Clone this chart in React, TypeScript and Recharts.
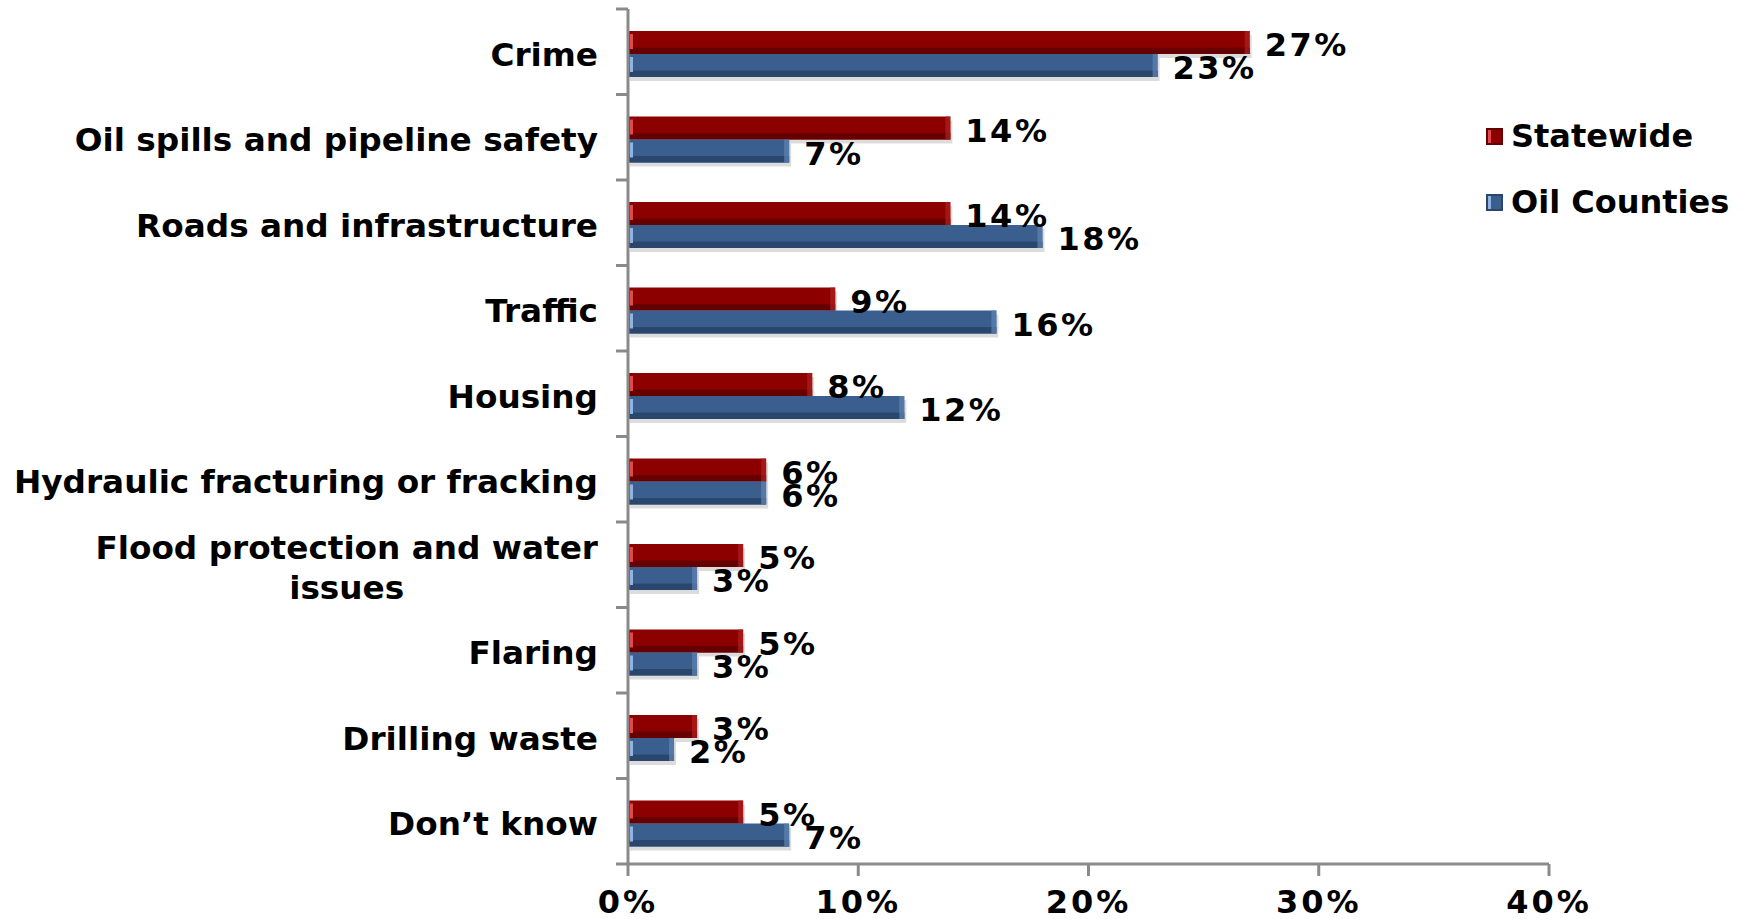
import { Bar, BarChart, LabelList, Legend, XAxis, YAxis } from "recharts";

const CATEGORIES = [
  "Crime",
  "Oil spills and pipeline safety",
  "Roads and infrastructure",
  "Traffic",
  "Housing",
  "Hydraulic fracturing or fracking",
  "Flood protection and water issues",
  "Flaring",
  "Drilling waste",
  "Don\u2019t know",
];
const STATEWIDE = [27, 14, 14, 9, 8, 6, 5, 5, 3, 5];
const OIL_COUNTIES = [23, 7, 18, 16, 12, 6, 3, 3, 2, 7];
const X_TICKS = [0, 10, 20, 30, 40];

const data = CATEGORIES.map((category, i) => ({
  category,
  statewide: STATEWIDE[i],
  oil: OIL_COUNTIES[i],
}));

const W = 1752;
const H = 919;
const MARGIN = { top: 9, right: 203, bottom: 0, left: 0 };
const Y_AXIS_W = 628;
const X_AXIS_H = 55;
const BAND = (H - MARGIN.top - MARGIN.bottom - X_AXIS_H) / CATEGORIES.length;
const AXIS_GRAY = "#8a8a8a";
const FONT = "'DejaVu Sans', Verdana, sans-serif";
const CAT_FONT_SIZE = 32.7;

const RED = { main: "#8c0000", dark: "#660000", light: "#e04a4a", edge: "#b02020" };
const BLUE = { main: "#3a5f8e", dark: "#2a466c", light: "#8fb4e2", edge: "#5f84b4" };

type Palette = typeof RED;

// bars sit a touch below the band centre in the original
const BAR_SHIFT = 2;

function GlossyBar(props: any & { palette: Palette }) {
  const { x, width, height, palette } = props;
  const y = props.y + BAR_SHIFT;
  if (!width || width <= 0) return null;
  return (
    <g>
      <rect x={x + 2} y={y + 4} width={width} height={height} fill="#9a9a9a" opacity={0.35} />
      <rect x={x} y={y} width={width} height={height} fill={palette.main} />
      <rect x={x} y={y + height * 0.72} width={width} height={height * 0.28} fill={palette.dark} />
      <rect x={x + 2} y={y + 3} width={3} height={height - 8} fill={palette.light} />
      <rect x={x + width - 5} y={y} width={5} height={height} fill={palette.edge} opacity={0.7} />
    </g>
  );
}

function ValueLabel(props: any) {
  const { x, y, width, height, value } = props;
  return (
    <text
      x={x + width + 15}
      y={y + height / 2 + BAR_SHIFT + 2}
      dy="0.36em"
      fontFamily={FONT}
      fontWeight="bold"
      fontSize={32}
      letterSpacing={2.5}
      fill="#000"
    >
      {`${value}%`}
    </text>
  );
}

let measureCtx: CanvasRenderingContext2D | null = null;
function textWidth(s: string) {
  if (!measureCtx) {
    measureCtx = document.createElement("canvas").getContext("2d");
  }
  if (!measureCtx) return s.length * 20;
  measureCtx.font = `bold ${CAT_FONT_SIZE}px ${FONT}`;
  return measureCtx.measureText(s).width;
}

function wrap(label: string, max: number) {
  const words = label.split(" ");
  const lines: string[] = [];
  let cur = "";
  for (const w of words) {
    const next = cur ? `${cur} ${w}` : w;
    if (cur && textWidth(next) > max) {
      lines.push(cur);
      cur = w;
    } else {
      cur = next;
    }
  }
  if (cur) lines.push(cur);
  return lines;
}

function CategoryTick(props: any) {
  const { y, payload, index } = props;
  const axisX = MARGIN.left + Y_AXIS_W;
  const right = axisX - 30;
  const lines = wrap(payload.value, 595);
  const widest = Math.max(...lines.map(textWidth));
  const cx = right - widest / 2;
  const lineH = 40;
  const startY = y + 2 - ((lines.length - 1) * lineH) / 2;
  const isLast = index === CATEGORIES.length - 1;
  return (
    <g>
      <line x1={axisX - 12} x2={axisX} y1={y - BAND / 2} y2={y - BAND / 2} stroke={AXIS_GRAY} strokeWidth={3} />
      {isLast && (
        <line x1={axisX - 12} x2={axisX} y1={y + BAND / 2} y2={y + BAND / 2} stroke={AXIS_GRAY} strokeWidth={3} />
      )}
      <text
        x={lines.length > 1 ? cx : right}
        y={startY}
        textAnchor={lines.length > 1 ? "middle" : "end"}
        fontFamily={FONT}
        fontWeight="bold"
        fontSize={CAT_FONT_SIZE}
        fill="#000"
      >
        {lines.map((l, i) => (
          <tspan key={l} x={lines.length > 1 ? cx : right} y={startY + i * lineH} dy="0.36em">
            {l}
          </tspan>
        ))}
      </text>
    </g>
  );
}

function LegendContent() {
  const items = [
    { name: "Statewide", palette: RED },
    { name: "Oil Counties", palette: BLUE },
  ];
  return (
    <div style={{ fontFamily: FONT, fontWeight: "bold", fontSize: 32 }}>
      {items.map((it) => (
        <div key={it.name} style={{ display: "flex", alignItems: "center", height: 40, marginBottom: 26 }}>
          <span
            style={{
              display: "inline-block",
              width: 17,
              height: 17,
              marginRight: 8,
              boxSizing: "border-box",
              border: `2px solid ${it.palette.dark}`,
              background: `linear-gradient(90deg, ${it.palette.light} 0 25%, ${it.palette.main} 25%)`,
            }}
          />
          <span style={{ color: "#000", whiteSpace: "nowrap" }}>{it.name}</span>
        </div>
      ))}
    </div>
  );
}

export default function App() {
  return (
    <div style={{ width: W, height: H, background: "#fff" }}>
      <style>{"body{margin:0;background:#fff}"}</style>
      <BarChart
        width={W}
        height={H}
        data={data}
        layout="vertical"
        margin={MARGIN}
        barSize={23}
        barGap={0}
      >
        <XAxis
          type="number"
          domain={[0, 40]}
          ticks={X_TICKS}
          tickFormatter={(v) => `${v}%`}
          height={X_AXIS_H}
          stroke={AXIS_GRAY}
          strokeWidth={3}
          tickSize={12}
          tickMargin={14}
          tick={{ fill: "#000", fontFamily: FONT, fontWeight: "bold", fontSize: 32, letterSpacing: 3 }}
          tickLine={{ stroke: AXIS_GRAY, strokeWidth: 3 }}
          axisLine={{ stroke: AXIS_GRAY, strokeWidth: 3 }}
        />
        <YAxis
          type="category"
          dataKey="category"
          width={Y_AXIS_W}
          tickLine={false}
          axisLine={{ stroke: AXIS_GRAY, strokeWidth: 3 }}
          tick={<CategoryTick />}
          interval={0}
        />
        <Legend
          layout="horizontal"
          verticalAlign="middle"
          align="center"
          wrapperStyle={{ top: 116, left: 1486, width: 266, height: 140 }}
          content={<LegendContent />}
        />
        <Bar
          dataKey="statewide"
          name="Statewide"
          fill={RED.main}
          isAnimationActive={false}
          shape={(p: any) => <GlossyBar {...p} palette={RED} />}
        >
          <LabelList dataKey="statewide" content={<ValueLabel />} />
        </Bar>
        <Bar
          dataKey="oil"
          name="Oil Counties"
          fill={BLUE.main}
          isAnimationActive={false}
          shape={(p: any) => <GlossyBar {...p} palette={BLUE} />}
        >
          <LabelList dataKey="oil" content={<ValueLabel />} />
        </Bar>
      </BarChart>
    </div>
  );
}
